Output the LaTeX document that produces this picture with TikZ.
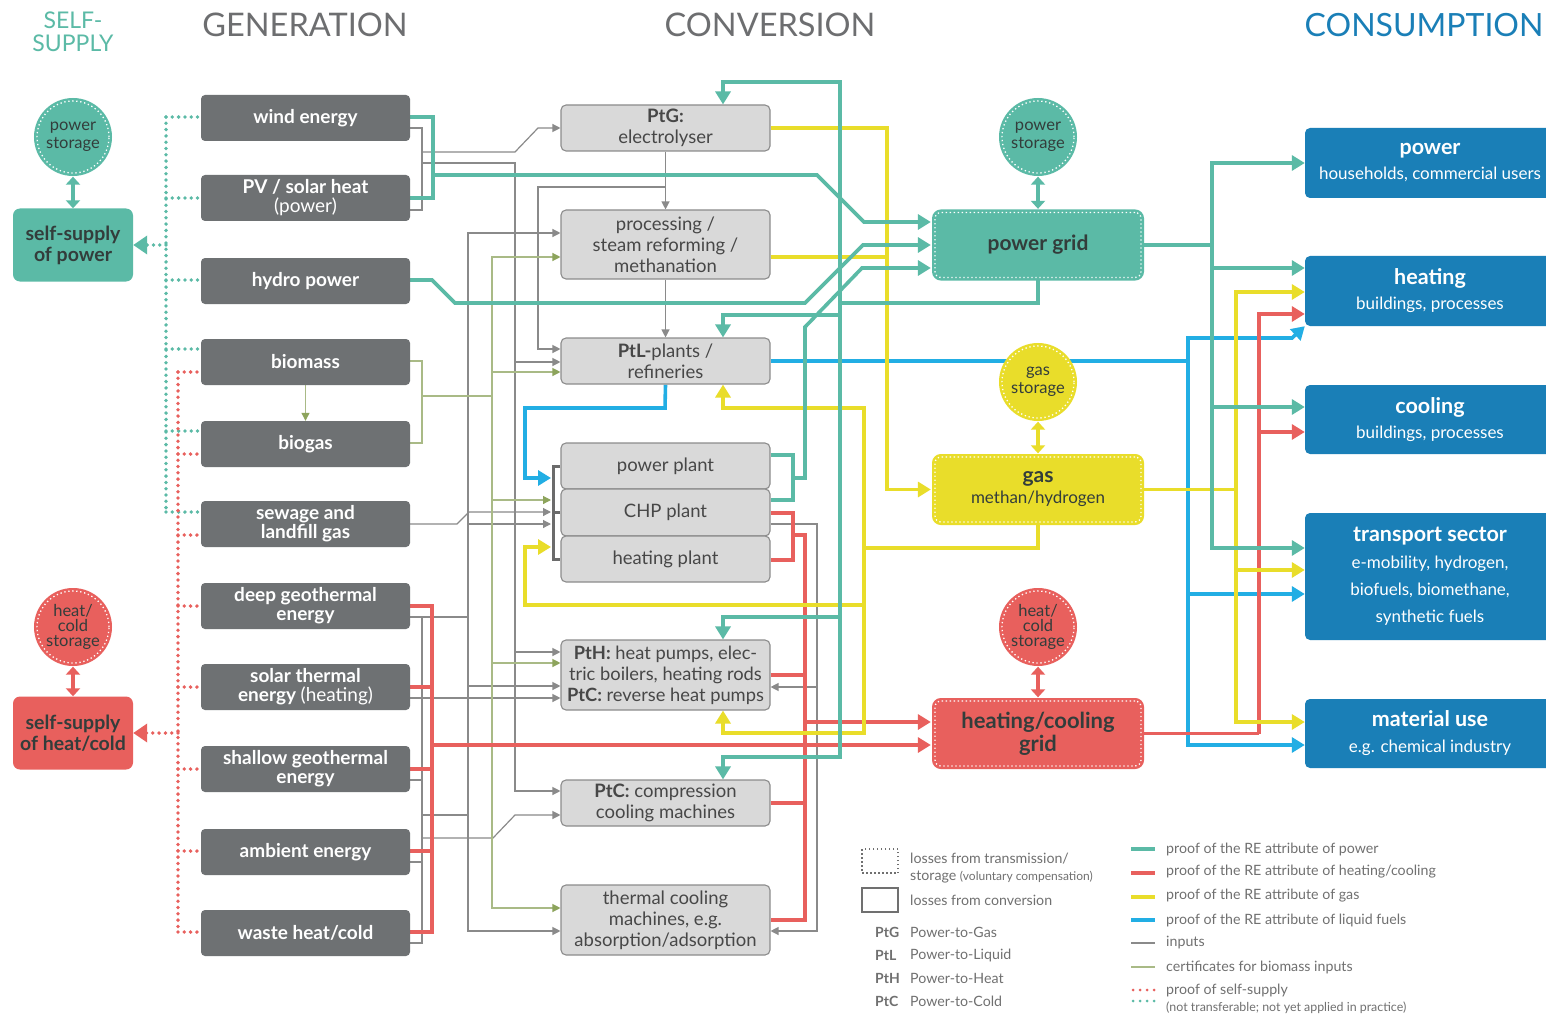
\documentclass[tikz,border=0pt]{standalone}
\usepackage{fontspec}
\setmainfont{Lato}
\usetikzlibrary{arrows.meta}
\definecolor{tealc}{HTML}{5BBAA6}
\definecolor{gengray}{HTML}{6E7173}
\definecolor{convfill}{HTML}{D9D9D9}
\definecolor{convdraw}{HTML}{8C8C8C}
\definecolor{yel}{HTML}{E9DD2A}
\definecolor{redc}{HTML}{E8605D}
\definecolor{bluel}{HTML}{22AEE4}
\definecolor{blueb}{HTML}{1A7FB7}
\definecolor{olive}{HTML}{A9BA86}
\definecolor{olivetip}{HTML}{8DA45C}
\definecolor{ingray}{HTML}{8A8A8A}
\definecolor{brkgray}{HTML}{6B6B6B}
\definecolor{headgray}{HTML}{6D6E70}
\definecolor{darktxt}{HTML}{333D3B}
\definecolor{convtxt}{HTML}{474747}
\definecolor{legtxt}{HTML}{707070}
\newcommand\fsz[2]{\fontsize{#1}{#2}\selectfont}
\pgfdeclarelayer{bg}
\pgfsetlayers{bg,main}
\begin{document}
\begin{tikzpicture}[x=1pt,y=-1pt,
  gen/.style={fill=gengray, rounded corners=4pt, minimum width=209pt, minimum height=46pt, inner sep=0pt, text=white, font=\bfseries\fsz{19}{19}, align=center},
  conv/.style={fill=convfill, draw=convdraw, line width=1.1pt, rounded corners=5pt, minimum width=209pt, inner sep=0pt, text=convtxt, font=\fsz{18.5}{21}, align=center},
  cons/.style={fill=blueb, rounded corners=5pt, minimum width=250pt, inner sep=0pt, text=white, align=center},
  gridbox/.style={rounded corners=6pt, minimum width=206pt, minimum height=65pt, inner sep=0pt, fill=#1, preaction={draw=#1, line width=6pt, solid}, draw=white, line width=1.3pt, dash pattern=on 1.3pt off 2.7pt, align=center, text=darktxt},
  storage/.style={circle, minimum size=72pt, inner sep=0pt, fill=#1, preaction={draw=#1, line width=6pt, solid}, draw=white, line width=1.3pt, dash pattern=on 1.3pt off 2.7pt, align=center, text=darktxt, font=\fsz{16.5}{17.5}},
  selfbox/.style={fill=#1, rounded corners=7pt, minimum width=120pt, minimum height=73pt, inner sep=0pt, align=center, text=darktxt, font=\bfseries\fsz{19.5}{21}},
  head/.style={font=\fsz{32.5}{34}, text=headgray, inner sep=0pt},
  leg/.style={anchor=west, font=\fsz{14.2}{17}, text=legtxt, inner sep=0pt, align=left},
  pw/.style={draw=tealc, line width=3.6pt},
  gs/.style={draw=yel, line width=3.6pt},
  ht/.style={draw=redc, line width=3.6pt},
  lq/.style={draw=bluel, line width=3.6pt},
  inp/.style={draw=ingray, line width=1.2pt},
  bio/.style={draw=olive, line width=1.2pt},
  big/.style={-{Triangle[length=13pt,width=15pt]}},
  gin/.style={shorten >=3.5pt},
  sm/.style={-{Triangle[length=8pt,width=8pt]}},
  smo/.style={-{Triangle[length=8pt,width=8pt,color=olivetip]}},
  dotT/.style={draw=tealc, line width=3.8pt, line cap=round, dash pattern=on 0pt off 6.3pt},
  dotR/.style={draw=redc, line width=3.8pt, line cap=round, dash pattern=on 0pt off 6.3pt},
  dbl/.style={line width=3.5pt, {Triangle[length=8pt,width=14pt]}-{Triangle[length=8pt,width=14pt]}, shorten <=3pt},
  brk/.style={draw=brkgray, line width=3pt}
]
\begin{pgfonlayer}{bg}
\fill[white] (0,0) rectangle (1546,1016);
\end{pgfonlayer}
\useasboundingbox (0,0) rectangle (1546,1016);

% headers
\node[font=\fsz{23}{23}, text=tealc, align=center, inner sep=0pt] (hself) at (73,32) {SELF-\\SUPPLY};
\node[head] (hgen) at (305,25) {GENERATION};
\node[head] (hconv) at (770,25) {CONVERSION};
\node[head, font=\fsz{32}{34}, text=blueb] (hcons) at (1424,25) {CONSUMPTION};

% generation
\node[gen] (wind) at (305.5,118) {wind energy};
\node[gen] (pv) at (305.5,198) {PV / solar heat\\{\mdseries (power)}};
\node[gen] (hydro) at (305.5,281) {hydro power};
\node[gen] (biomass) at (305.5,362) {biomass};
\node[gen] (biogas) at (305.5,444) {biogas};
\node[gen] (sewage) at (305.5,524) {sewage and\\landfill gas};
\node[gen] (deepgeo) at (305.5,606) {deep geothermal\\energy};
\node[gen] (solar) at (305.5,687) {solar thermal\\energy {\mdseries (heating)}};
\node[gen] (shallow) at (305.5,769) {shallow geothermal\\energy};
\node[gen] (ambient) at (305.5,852) {ambient energy};
\node[gen] (waste) at (305.5,933) {waste heat/cold};

% self-supply
\node[storage=tealc] (pstor1) at (73,137) {power\\storage};
\node[selfbox=tealc] (selfp) at (73,245) {self-supply\\of power};
\node[storage=redc, font=\fsz{16.5}{14.8}] (hstor1) at (73,627) {heat/\\cold\\storage};
\node[selfbox=redc] (selfh) at (73,733) {self-supply\\of heat/cold};

% conversion
\node[conv, minimum height=46pt] (ptg) at (665.5,128) {\textbf{PtG:}\\electrolyser};
\node[conv, minimum height=69pt] (proc) at (665.5,244.5) {processing /\\steam reforming /\\methanation};
\node[conv, minimum height=46pt] (ptl) at (665.5,361) {\textbf{PtL-}plants /\\refineries};
\node[conv, minimum height=46pt] (pplant) at (665.5,466) {power plant};
\node[conv, minimum height=47pt] (chp) at (665.5,512.5) {CHP plant};
\node[conv, minimum height=46pt] (hplant) at (665.5,559) {heating plant};
\node[conv, minimum height=70pt, font=\fsz{18.3}{21}] (pth) at (665.5,675) {\textbf{PtH:} heat pumps, elec-\\tric boilers, heating rods\\\textbf{PtC:} reverse heat pumps};
\node[conv, minimum height=46pt] (ptc) at (665.5,803) {\textbf{PtC:} compression\\cooling machines};
\node[conv, minimum height=70pt] (thermc) at (665.5,920) {thermal cooling\\machines, e.g.\\absorption/adsorption};

% central grids
\node[storage=tealc] (pstor2) at (1038,137) {power\\storage};
\node[gridbox=tealc, font=\bfseries\fsz{21}{22}] (pgrid) at (1038,245) {power grid};
\node[storage=yel] (gstor) at (1038,382) {gas\\storage};
\node[gridbox=yel, font=\fsz{17}{21}] (gas) at (1038,489.5) {{\bfseries\fsz{21}{21}gas}\\methan/hydrogen};
\node[storage=redc, font=\fsz{16.5}{14.8}] (hstor2) at (1038,627) {heat/\\cold\\storage};
\node[gridbox=redc, font=\bfseries\fsz{22}{23}] (hcgrid) at (1038,733.5) {heating/cooling\\grid};

% consumption
\node[cons, minimum height=70pt, font=\fsz{17}{25}] (cpower) at (1430,163) {{\bfseries\fsz{21.5}{25}power}\\households, commercial users};
\node[cons, minimum height=70pt, font=\fsz{17}{25}] (cheat) at (1430,291) {{\bfseries\fsz{21.5}{25}heating}\\buildings, processes};
\node[cons, minimum height=69pt, font=\fsz{17}{25}] (ccool) at (1430,419.5) {{\bfseries\fsz{21.5}{25}cooling}\\buildings, processes};
\node[cons, minimum height=127pt, font=\fsz{17}{27}] (ctrans) at (1430,576.5) {{\bfseries\fsz{21.5}{27}transport sector}\\e-mobility, hydrogen,\\biofuels, biomethane,\\synthetic fuels};
\node[cons, minimum height=69pt, font=\fsz{17}{26}] (cmat) at (1430,733.5) {{\bfseries\fsz{21.5}{26}material use}\\e.g. chemical industry};

% legend
\node[draw=legtxt, line width=1.5pt, dash pattern=on 1.5pt off 2.5pt, minimum width=36pt, minimum height=24pt, inner sep=0pt] (lgdot) at (880,861) {};
\node[leg] (lgdott) at (910,868) {losses from transmission/\\storage {\fsz{12}{17}(voluntary compensation)}};
\node[draw=legtxt, line width=1.5pt, minimum width=36pt, minimum height=24pt, inner sep=0pt] (lgsol) at (880,900) {};
\node[leg] (lgsolt) at (910,900) {losses from conversion};
\node[leg, font=\bfseries\fsz{14}{15}] (ab1) at (875,932) {PtG};
\node[leg] (ab1t) at (910,932) {Power-to-Gas};
\node[leg, font=\bfseries\fsz{14}{15}] (ab2) at (875,955) {PtL};
\node[leg] (ab2t) at (910,955) {Power-to-Liquid};
\node[leg, font=\bfseries\fsz{14}{15}] (ab3) at (875,978) {PtH};
\node[leg] (ab3t) at (910,978) {Power-to-Heat};
\node[leg, font=\bfseries\fsz{14}{15}] (ab4) at (875,1001) {PtC};
\node[leg] (ab4t) at (910,1001) {Power-to-Cold};
\draw[pw] (1131,849) -- (1155,849);
\node[leg] (l1) at (1166,849) {proof of the RE attribute of power};
\draw[ht] (1131,873) -- (1155,873);
\node[leg] (l2) at (1166,872) {proof of the RE attribute of heating/cooling};
\draw[gs] (1131,897) -- (1155,897);
\node[leg] (l3) at (1166,896) {proof of the RE attribute of gas};
\draw[lq] (1131,920) -- (1155,920);
\node[leg] (l4) at (1166,920) {proof of the RE attribute of liquid fuels};
\draw[inp, line width=1.6pt] (1131,943) -- (1155,943);
\node[leg] (l5) at (1166,943) {inputs};
\draw[bio, line width=1.6pt] (1131,967) -- (1155,967);
\node[leg] (l6) at (1166,967) {certificates for biomass inputs};
\draw[dotR, line width=3pt, dash pattern=on 0pt off 7pt] (1133,990) -- (1155,990);
\draw[dotT, line width=3pt, dash pattern=on 0pt off 7pt] (1133,1001) -- (1155,1001);
\node[leg] (l7) at (1166,990) {proof of self-supply};
\node[leg, font=\fsz{12.4}{13}] (l8) at (1166,1008) {(not transferable; not yet applied in practice)};

\begin{pgfonlayer}{bg}
% ---------- gray inputs ----------
\draw[inp] (wind.east |- 0,128) -- (422,128) -- (422,210) -- (pv.east |- 0,210);
\draw[inp,sm] (422,152) -- (515,152) -- (538,128) -- (ptg.west);
\draw[inp,sm] (422,163) -- (515,163) -- (515,791) -- (ptc.west |- 0,791);
\draw[inp,sm] (515,362) -- (ptl.west |- 0,362);
\draw[inp,sm] (515,652) -- (pth.west |- 0,652);
\draw[inp,sm] (ptg.south) -- (proc.north);
\draw[inp,sm] (665,187) -- (538,187) -- (538,349) -- (ptl.west |- 0,349);
\draw[inp,sm] (proc.south) -- (ptl.north);
\draw[inp,sm] (468,400) -- (468,233) -- (proc.west |- 0,233);
\draw[inp,sm] (468,400) -- (468,931) -- (thermc.west |- 0,931);
\draw[inp,sm] (468,524) -- (551,524);
\draw[inp,sm] (468,686) -- (pth.west |- 0,686);
\draw[inp,sm] (sewage.east) -- (457,524) -- (469,512) -- (551,512);
\draw[inp] (deepgeo.east |- 0,617) -- (422,617) -- (422,943) -- (waste.east |- 0,943);
\draw[inp] (solar.east |- 0,698) -- (422,698);
\draw[inp] (shallow.east |- 0,780) -- (422,780);
\draw[inp] (ambient.east |- 0,862) -- (422,862);
\draw[inp] (422,617) -- (468,617);
\draw[inp,sm] (422,698) -- (pth.west |- 0,698);
\draw[inp] (422,815) -- (468,815);
\draw[inp,sm] (422,838) -- (493,838) -- (515,815) -- (ptc.west |- 0,815);
\draw[inp,sm] (chp.east |- 0,524) -- (817,524) -- (817,931) -- (thermc.east |- 0,931);
\draw[inp,sm] (817,687) -- (pth.east |- 0,687);
% ---------- biomass certificates ----------
\draw[bio] (biomass.east |- 0,361) -- (422,361) -- (422,443) -- (biogas.east |- 0,443);
\draw[bio] (422,396) -- (492,396);
\draw[bio,smo] (492,396) -- (492,257) -- (proc.west |- 0,257);
\draw[bio,smo] (492,396) -- (492,908) -- (thermc.west |- 0,908);
\draw[bio,smo] (492,372) -- (ptl.west |- 0,372);
\draw[bio,smo] (492,500) -- (551,500);
\draw[bio,smo] (492,663) -- (pth.west |- 0,663);
\draw[bio,smo] (biomass.south) -- (biogas.north);
% bracket
\draw[brk] (pplant.west) -| (553,512) |- (hplant.west);
\draw[brk] (chp.west) -- (553,512.5);
% ---------- self-supply dotted ----------
\draw[dotT] (166,117) -- (166,512);
\draw[dotT] (166,117) -- (wind.west |- 0,117);
\draw[dotT] (166,198) -- (pv.west);
\draw[dotT] (166,280) -- (hydro.west |- 0,280);
\draw[dotT] (166,349) -- (biomass.west |- 0,349);
\draw[dotT] (166,431) -- (biogas.west |- 0,431);
\draw[dotT] (166,512) -- (sewage.west |- 0,512);
\draw[dotT, -{Triangle[length=14pt,width=18pt]}] (166,245) -- (selfp.east);
\draw[dotR] (178,372) -- (178,932);
\draw[dotR] (178,372) -- (biomass.west |- 0,372);
\draw[dotR] (178,454) -- (biogas.west |- 0,454);
\draw[dotR] (178,535) -- (sewage.west |- 0,535);
\draw[dotR] (178,606) -- (deepgeo.west);
\draw[dotR] (178,687) -- (solar.west);
\draw[dotR] (178,769) -- (shallow.west);
\draw[dotR] (178,851) -- (ambient.west |- 0,851);
\draw[dotR] (178,932) -- (waste.west |- 0,932);
\draw[dotR, -{Triangle[length=14pt,width=18pt]}] (178,733) -- (selfh.east);
% storage double arrows
\draw[dbl, draw=tealc] (pstor1.south) -- (selfp.north);
\draw[dbl, draw=redc] (hstor1.south) -- (selfh.north);
\draw[dbl, draw=tealc, shorten >=3pt] (pstor2.south) -- (pgrid.north);
\draw[dbl, draw=yel, shorten >=3pt] (gstor.south) -- (gas.north);
\draw[dbl, draw=redc, shorten >=3pt] (hstor2.south) -- (hcgrid.north);
% ---------- liquid fuels ----------
\draw[lq] (ptl.east) -- (1188,361);
\draw[lq,big] (1188,361) -- (1188,338) -- (1292,338) -- (cheat.south west);
\draw[lq,big] (1188,361) -- (1188,745) -- (cmat.west |- 0,745);
\draw[lq,big] (1188,594) -- (ctrans.west |- 0,594);
\draw[lq,big] (ptl.south) -- (665,408) -- (525,408) -- (525,478) -- (551,478);
% ---------- heat ----------
\draw[ht] (deepgeo.east) -- (432,606) -- (432,932) -- (waste.east |- 0,932);
\draw[ht] (solar.east) -- (432,687);
\draw[ht] (shallow.east) -- (432,769);
\draw[ht] (ambient.east |- 0,851) -- (432,851);
\draw[ht,big,gin] (432,745) -- (hcgrid.west |- 0,745);
\draw[ht] (chp.east |- 0,513) -- (793,513) -- (793,560) -- (hplant.east |- 0,560);
\draw[ht] (793,535) -- (805,535) -- (805,920) -- (thermc.east |- 0,920);
\draw[ht] (pth.east |- 0,675) -- (805,675);
\draw[ht] (ptc.east) -- (805,803);
\draw[ht,big,gin] (805,722) -- (hcgrid.west |- 0,722);
\draw[ht] (hcgrid.east) -- (1259,733.5);
\draw[ht,big] (1259,733.5) -- (1259,314) -- (cheat.west |- 0,314);
\draw[ht,big] (1259,432) -- (ccool.west |- 0,432);
% ---------- gas ----------
\draw[gs,big,gin] (ptg.east) -- (887,128) -- (887,489.5) -- (gas.west);
\draw[gs] (proc.east |- 0,257) -- (887,257);
\draw[gs] (gas.south) -- (1038,548) -- (864,548);
\draw[gs,big] (864,548) -- (864,408) -- (723,408) -- (ptl.south -| 723,0);
\draw[gs,big] (864,548) -- (864,733) -- (723,733) -- (pth.south -| 723,0);
\draw[gs,big] (864,605) -- (525,605) -- (525,547) -- (551,547);
\draw[gs] (gas.east) -- (1236,489.5);
\draw[gs,big] (1236,489.5) -- (1236,292) -- (cheat.west |- 0,292);
\draw[gs,big] (1236,489.5) -- (1236,722) -- (cmat.west |- 0,722);
\draw[gs,big] (1236,570) -- (ctrans.west |- 0,570);
% ---------- power ----------
\draw[pw] (wind.east |- 0,117) -- (433,117) -- (433,198) -- (pv.east);
\draw[pw,big,gin] (433,175) -- (817,175) -- (864,222) -- (pgrid.west |- 0,222);
\draw[pw,big,gin] (hydro.east |- 0,280) -- (432,280) -- (455,303) -- (805,303) -- (863,245) -- (pgrid.west);
\draw[pw] (pplant.east |- 0,455) -- (793,455) -- (793,500) -- (chp.east |- 0,500);
\draw[pw,big,gin] (793,478) -- (805,478) -- (805,327) -- (862,268) -- (pgrid.west |- 0,268);
\draw[pw] (pgrid.south) -- (1038,303) -- (840,303);
\draw[pw,big] (840,303) -- (840,82) -- (723,82) -- (ptg.north -| 723,0);
\draw[pw,big] (840,303) -- (840,315) -- (723,315) -- (ptl.north -| 723,0);
\draw[pw,big] (840,303) -- (840,757) -- (723,757) -- (ptc.north -| 723,0);
\draw[pw,big] (840,617) -- (723,617) -- (pth.north -| 723,0);
\draw[pw] (pgrid.east) -- (1212,245);
\draw[pw,big] (1212,245) -- (1212,163) -- (cpower.west |- 0,163);
\draw[pw,big] (1212,245) -- (1212,548) -- (ctrans.west |- 0,548);
\draw[pw,big] (1212,268) -- (cheat.west |- 0,268);
\draw[pw,big] (1212,407) -- (ccool.west |- 0,407);
\end{pgfonlayer}
\end{tikzpicture}
\end{document}
